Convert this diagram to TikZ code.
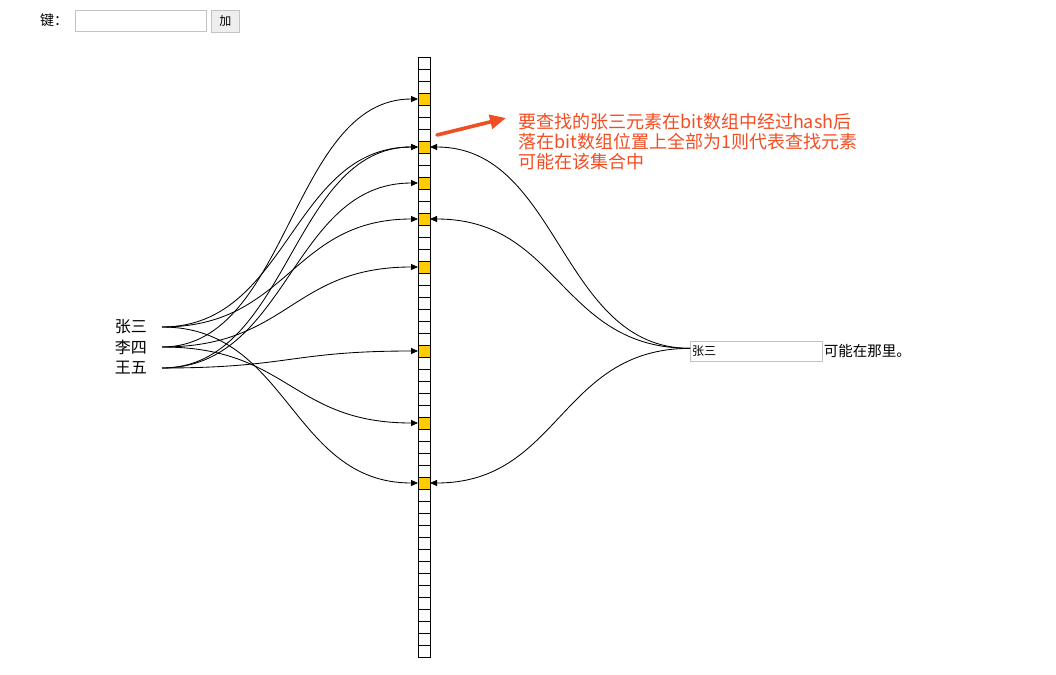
\documentclass[tikz,border=0pt]{standalone}
\usepackage{fontspec}
\setmainfont{Noto Sans CJK SC}
\usetikzlibrary{arrows.meta,calc}
\definecolor{bitYellow}{RGB}{255,204,0}
\definecolor{noteRed}{RGB}{242,78,36}
\definecolor{boxGray}{RGB}{195,195,195}
\definecolor{btnGray}{RGB}{238,238,238}
\tikzset{
  cell/.style={draw=black, line width=0.8pt, minimum size=12pt, inner sep=0pt, outer sep=0pt},
  link/.style={draw=black, line width=0.85pt, -{Triangle[length=7pt,width=6pt]}},
  hname/.style={font=\fontsize{16pt}{18pt}\selectfont, inner xsep=15pt, inner ysep=0pt, anchor=east},
  inbox/.style={draw=boxGray, line width=0.7pt, inner sep=0pt, anchor=north west},
  note/.style={text=noteRed, font=\fontsize{18pt}{20pt}\selectfont, align=left, inner sep=0pt, anchor=west}
}
\begin{document}
\begin{tikzpicture}[x=1pt,y=-1pt]
\useasboundingbox[fill=white] (0,0) rectangle (1056,674);

% top form
\node[font=\fontsize{14pt}{16pt}\selectfont, anchor=west, inner sep=0pt] (keylbl) at (40,20) {键：};
\node[inbox, minimum width=131pt, minimum height=21pt] (keybox) at (75,10) {};
\node[inbox, fill=btnGray, minimum width=28pt, minimum height=22pt, font=\fontsize{12pt}{14pt}\selectfont] (addbtn) at (211,10) {加};

% bit array
\foreach \i in {0,...,49}{
  \node[cell] (c\i) at (424,63+12*\i) {};
}
\foreach \i in {3,7,10,13,17,24,30,35}{
  \filldraw[fill=bitYellow, draw=black, line width=0.8pt] (c\i.south west) rectangle (c\i.north east);
}

% names
\node[hname] (zs) at (162,327) {张三};
\node[hname] (ls) at (162,347) {李四};
\node[hname] (ww) at (162,368) {王五};

% left links
\draw[link] (zs.east) .. controls +(127,0) and +(-127,0) .. (c7.west);
\draw[link] (zs.east) .. controls +(127,0) and +(-127,0) .. (c13.west);
\draw[link] (zs.east) .. controls +(127,0) and +(-127,0) .. (c35.west);
\draw[link] (ls.east) .. controls +(127,0) and +(-127,0) .. (c3.west);
\draw[link] (ls.east) .. controls +(127,0) and +(-127,0) .. (c17.west);
\draw[link] (ls.east) .. controls +(127,0) and +(-127,0) .. (c30.west);
\draw[link] (ww.east) .. controls +(127,0) and +(-127,0) .. (c7.west);
\draw[link] (ww.east) .. controls +(127,0) and +(-127,0) .. (c10.west);
\draw[link] (ww.east) .. controls +(127,0) and +(-127,0) .. (c24.west);

% query box
\node[inbox, minimum width=132pt, minimum height=20pt] (q) at (690,341) {};
\node[font=\fontsize{12pt}{14pt}\selectfont, anchor=west, inner sep=0pt] (qtxt) at (692,351) {张三};
\node[font=\fontsize{14.5pt}{16pt}\selectfont, anchor=west, inner sep=1pt] (maybe) at (q.east) {可能在那里。};
\coordinate (qs) at ([yshift=3pt]q.west);

% right links
\draw[link] (qs) .. controls +(-130,0) and +(130,0) .. (c7.east);
\draw[link] (qs) .. controls +(-130,0) and +(130,0) .. (c13.east);
\draw[link] (qs) .. controls +(-130,0) and +(130,0) .. (c35.east);

% annotation
\node[note] (notetxt) at (518,142) {要查找的张三元素在bit数组中经过hash后\\落在bit数组位置上全部为1则代表查找元素\\可能在该集合中};
\coordinate (ntail) at ([shift={(7pt,6pt)}]c7.north east);
\coordinate (nhead) at (506,118);
\draw[noteRed, line width=3.6pt, line cap=round, -{Triangle[length=16pt,width=14pt]}] (ntail) -- (nhead);
\end{tikzpicture}
\end{document}
